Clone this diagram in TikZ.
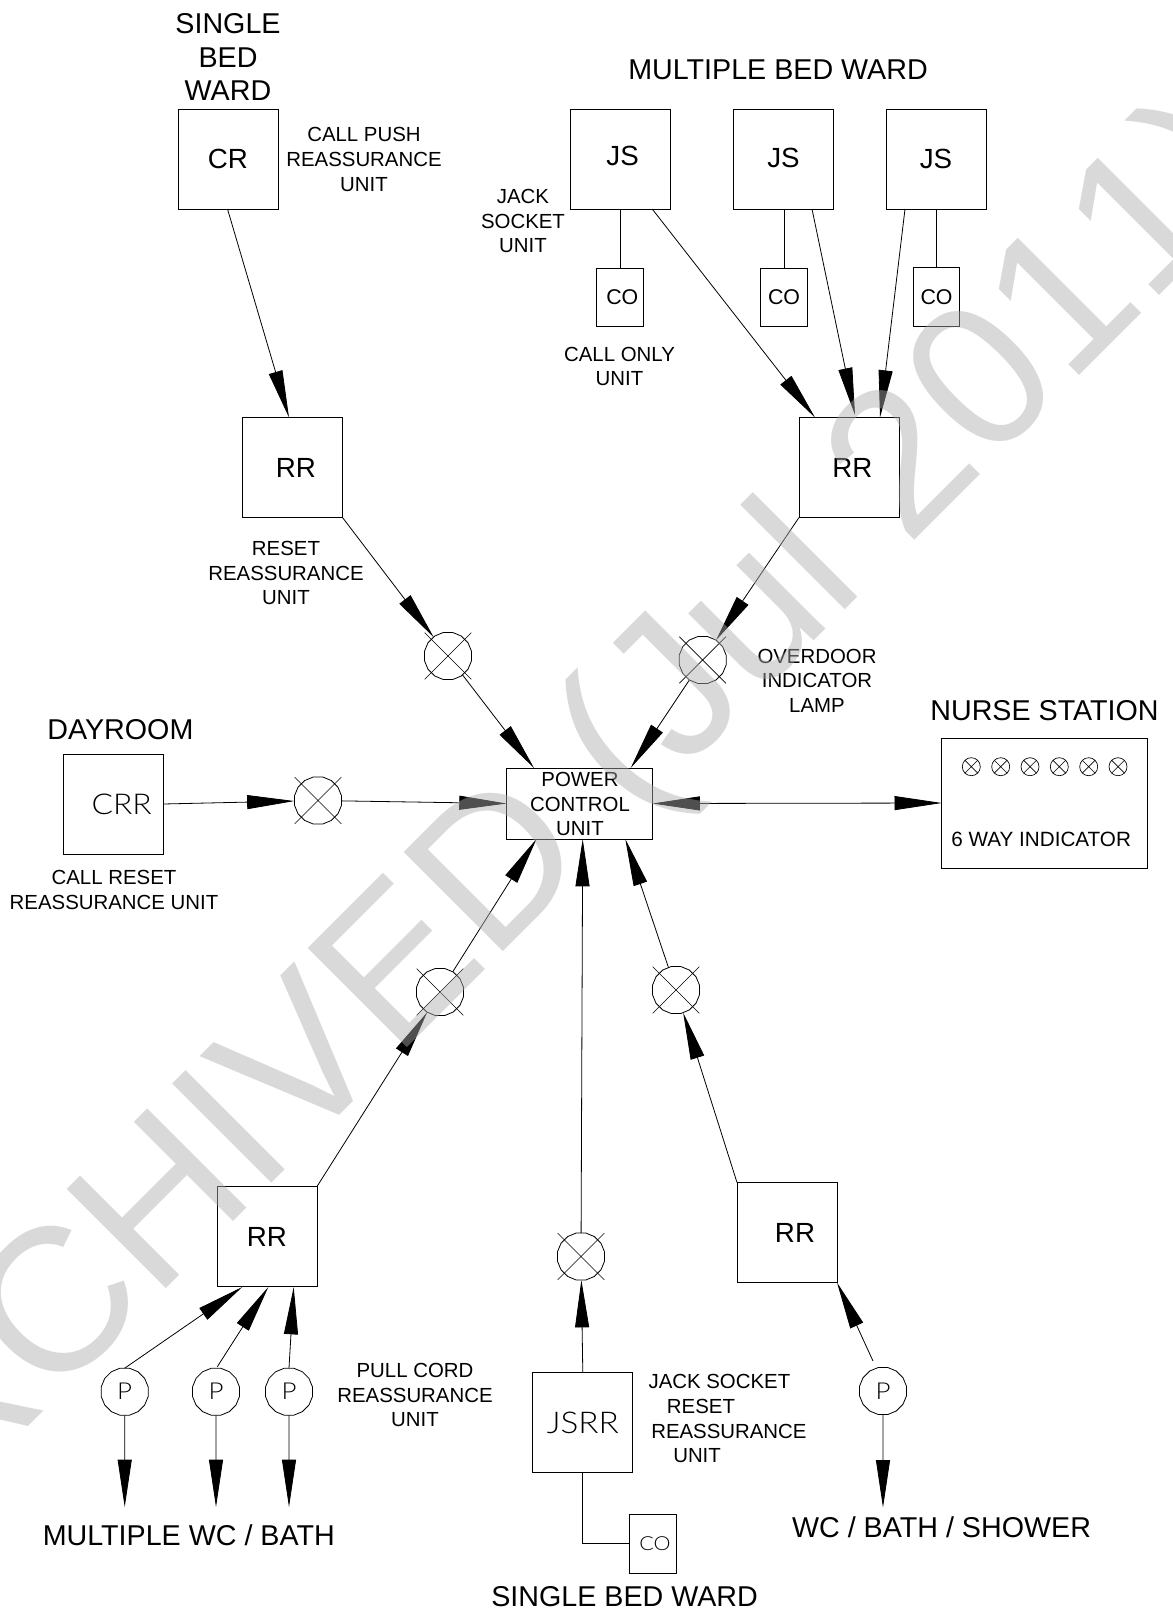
\documentclass[tikz,border=0pt]{standalone}
\usepackage{fontspec}
\setmainfont{Liberation Sans}
\newfontfamily\thinfont[FakeStretch=1.11]{Lato Light}
\newfontfamily\wmfont[Kerning=Off]{Liberation Sans}
\usetikzlibrary{arrows.meta,shapes.geometric}
\tikzset{
  wire/.style={line width=0.6pt,draw=black},
  arr/.style={wire,-{Triangle[length=35.5pt,width=10.5pt]}},
  darr/.style={wire,{Triangle[length=35.5pt,width=10.5pt]}-{Triangle[length=35.5pt,width=10.5pt]}},
  sqbox/.style={draw,line width=0.6pt,minimum width=75pt,minimum height=75pt,inner sep=0pt,outer sep=0pt,font=\fontsize{20.8}{24}\selectfont},
  cobox/.style={draw,line width=0.6pt,minimum width=35pt,minimum height=44pt,inner sep=0pt,outer sep=0pt,font=\fontsize{16}{18}\selectfont},
  lampnode/.style={draw,line width=0.6pt,regular polygon,regular polygon sides=16,minimum size=36pt,inner sep=0pt,outer sep=0pt},
  pnode/.style={lampnode,font=\thinfont\fontsize{17.5}{22}\selectfont},
  smalllamp/.style={draw,line width=0.5pt,circle,minimum size=13.5pt,inner sep=0pt,outer sep=0pt},
  small/.style={inner sep=0pt,align=center,font=\fontsize{15.3}{18.4}\selectfont},
  big/.style={inner sep=0pt,align=center,font=\fontsize{21.5}{25}\selectfont},
}
\newcommand{\lampcross}[2]{\draw[line width=0.5pt] (#1)+(-#2,-#2) -- +(#2,#2) (#1)+(-#2,#2) -- +(#2,-#2);}
\begin{document}
\begin{tikzpicture}[x=0.75pt,y=-0.75pt]
\useasboundingbox (0,0) rectangle (1173,1614);
% boxes
\node[sqbox] (cr) at (228,159) {CR};
\node[sqbox] (rr1) at (292.5,467.5) {\hspace{5pt}RR};
\node[sqbox] (rr2) at (849,467.5) {\hspace{5pt}RR};
\node[sqbox] (js1) at (620,159) {\hspace{4pt}\raisebox{4.5pt}{JS}};
\node[sqbox] (js2) at (783.5,159) {\raisebox{2.5pt}{JS}};
\node[sqbox] (js3) at (936,159) {JS};
\node[cobox] (co1) at (620,297.5) {\hspace{3.5pt}CO};
\node[cobox] (co2) at (784,297.5) {CO};
\node[cobox] (co3) at (936.5,297) {CO};
\node[draw,line width=0.6pt,minimum width=109.5pt,minimum height=53.3pt,inner sep=0pt,outer sep=0pt] (pcu) at (579.6,803.5) {};
\node[small,font=\fontsize{15.3}{18.7}\selectfont] (pcut) at (580,804) {POWER\\CONTROL\\UNIT};
\node[sqbox,font=\thinfont\fontsize{21.5}{24}\selectfont] (crr) at (113,804) {\hspace{13pt}CRR};
\node[draw,line width=0.6pt,minimum width=154pt,minimum height=97.5pt,inner sep=0pt,outer sep=0pt] (nurse) at (1044.5,803) {};
\node[sqbox] (rr3) at (267,1236.5) {\raisebox{-1.5pt}{RR}};
\node[sqbox] (rr4) at (787,1232.5) {\hspace{12pt}\raisebox{-1.5pt}{RR}};
\node[sqbox,font=\thinfont\fontsize{22.5}{24}\selectfont] (jsrr) at (582.8,1422.5) {JSRR\hspace{9pt}};
\node[draw,line width=0.6pt,minimum width=35.7pt,minimum height=44.3pt,inner sep=0pt,outer sep=0pt,font=\thinfont\fontsize{14.5}{18}\selectfont] (cob) at (653,1543.5) {\hspace{3pt}\raisebox{-3pt}{CO}};
% lamps
\node[lampnode] (l1) at (448,656) {}; \lampcross{l1}{23.3}
\node[lampnode] (l2) at (702.7,660) {}; \lampcross{l2}{23.3}
\node[lampnode] (l3) at (318,800.5) {}; \lampcross{l3}{23.3}
\node[lampnode] (l4) at (440,992) {}; \lampcross{l4}{23.3}
\node[lampnode] (l5) at (676,990) {}; \lampcross{l5}{23.3}
\node[lampnode] (l6) at (581,1256.5) {}; \lampcross{l6}{23.3}
\foreach \n/\x in {a/971.3,b/1000.7,c/1030,d/1059.3,e/1088.7,f/1118}{
  \node[smalllamp] (s\n) at (\x,766.7) {}; \lampcross{s\n}{6.5}
}
% pull cords
\node[pnode] (p1) at (124.7,1391.7) {P};
\node[pnode] (p2) at (216,1391.7) {P};
\node[pnode] (p3) at (289,1391.7) {P};
\node[pnode] (p4) at (883,1391) {P};
% free ends
\coordinate (e1) at (124.7,1507);
\coordinate (e2) at (216,1507);
\coordinate (e3) at (289,1507);
\coordinate (e4) at (883,1507.5);
\coordinate (rr3a) at (242.3,1287);
\coordinate (rr3b) at (268.3,1287);
\coordinate (rr3c) at (293.7,1287);
\coordinate (crb) at (227.5,209);
\coordinate (rr1t) at (289,417.5);
\coordinate (js1s) at (652.2,209);
\coordinate (js2s) at (812,209);
\coordinate (js3s) at (905,209);
\coordinate (rr2a) at (815,417.5);
\coordinate (rr2b) at (855,415);
\coordinate (rr2c) at (880,417.5);
\coordinate (pa) at (534,768);
\coordinate (pb) at (630.7,768);
\coordinate (pc) at (536.5,839);
\coordinate (pd) at (582.7,839);
\coordinate (pe) at (625.3,839);
\coordinate (p4t) at (873,1361);
\coordinate (p2t) at (217.3,1366.7);
% connectors
\draw[arr] (crb) -- (rr1t);
\draw[wire] (js1) -- (co1);
\draw[wire] (js2.south -| co2) -- (co2);
\draw[wire] (js3.south -| co3) -- (co3);
\draw[arr] (js1s) -- (rr2a);
\draw[arr] (js2s) -- (rr2b);
\draw[arr] (js3s) -- (rr2c);
\draw[arr] (rr1.south east) -- (l1);
\draw[arr] (l1) -- (pa);
\draw[arr] (rr2.south west) -- (l2);
\draw[arr] (l2) -- (pb);
\draw[arr] (crr.east) -- (l3);
\draw[arr] (l3) -- (pcu.west);
\draw[darr] (pcu.east) -- (nurse.west);
\draw[arr] (rr3.north east) -- (l4);
\draw[arr] (l4) -- (pc);
\draw[arr] (l6) -- (pd);
\draw[arr] (jsrr.north) -- (l6);
\draw[arr] (rr4.north west) -- (l5);
\draw[arr] (l5) -- (pe);
\draw[arr] (p1.north) -- (rr3a);
\draw[arr] (p2t) -- (rr3b);
\draw[arr] (p3.north) -- (rr3c);
\draw[arr] (p1) -- (e1);
\draw[arr] (p2) -- (e2);
\draw[arr] (p3) -- (e3);
\draw[arr] (p4t) -- (rr4.south east);
\draw[arr] (p4) -- (e4);
\draw[wire] (jsrr.south) |- (cob.west);
% labels
\node[big] (t1) at (228,57) {SINGLE\\BED\\WARD};
\node[small] (t2) at (364,159.5) {CALL PUSH\\REASSURANCE\\UNIT};
\node[big] (t3) at (778,70) {MULTIPLE BED WARD};
\node[small] (t4) at (523,221) {JACK\\SOCKET\\UNIT};
\node[small] (t5) at (619.5,366.5) {CALL ONLY\\UNIT};
\node[small] (t6) at (286,573) {RESET\\REASSURANCE\\UNIT};
\node[small] (t7) at (817,680.5) {OVERDOOR\\INDICATOR\\LAMP};
\node[big] (t8) at (1044.5,711) {NURSE STATION};
\node[big] (t9) at (120.4,729.6) {DAYROOM};
\node[small] (t10) at (114,889.7) {CALL RESET\\REASSURANCE UNIT};
\node[small,font=\fontsize{15.5}{18}\selectfont] (t11) at (1041.2,839) {6 WAY INDICATOR};
\node[small] (t12) at (415,1395.3) {PULL CORD\\REASSURANCE\\UNIT};
\node[small,anchor=west] (t13) at (648.3,1381.7) {JACK SOCKET};
\node[small,anchor=west] (t14) at (666.7,1406.7) {RESET};
\node[small,anchor=west] (t15) at (651,1431.3) {REASSURANCE};
\node[small,anchor=west] (t16) at (673,1456) {UNIT};
\node[big] (t17) at (188.8,1535) {MULTIPLE WC / BATH};
\node[big] (t18) at (941.5,1527) {WC / BATH / SHOWER};
\node[big] (t19) at (624.6,1597) {SINGLE BED WARD};
% watermark
\node[inner sep=0pt,anchor=base west,rotate=45,text=black!32,text opacity=0.46,font=\wmfont\fontsize{153}{160}\selectfont] (wm) at (-150,1605) {ARCHIVED (Jul 2011)};
\end{tikzpicture}
\end{document}
